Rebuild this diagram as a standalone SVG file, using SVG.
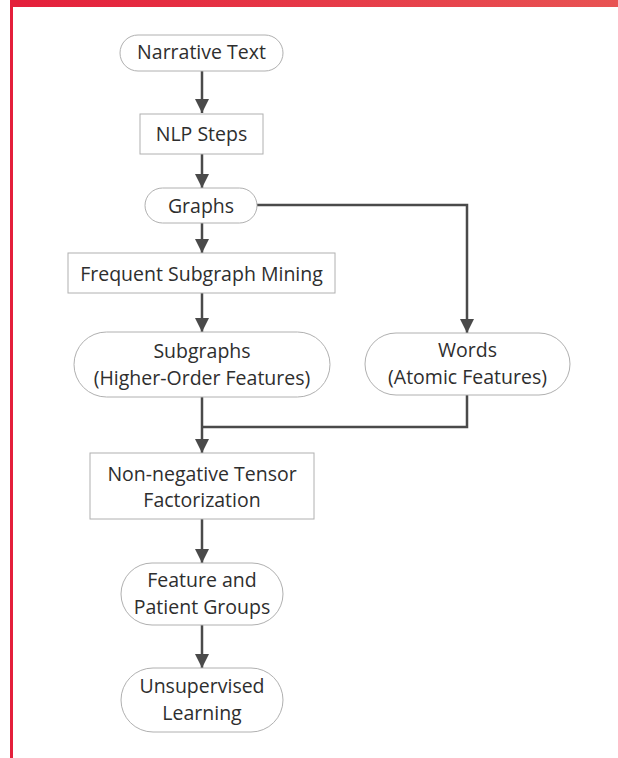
<svg xmlns="http://www.w3.org/2000/svg" width="618" height="758" viewBox="0 0 618 758">
<defs>
<linearGradient id="redbar" x1="0" y1="0" x2="1" y2="0">
<stop offset="0" stop-color="#e41f3b"/>
<stop offset="1" stop-color="#e85353"/>
</linearGradient>
<marker id="arr" markerUnits="userSpaceOnUse" markerWidth="14" markerHeight="14" viewBox="0 0 14 14" refX="14" refY="7" orient="auto">
<path d="M0,0 L14,7 L0,14 Z" fill="#4a4a4a"/>
</marker>
</defs>
<style>
.node rect{fill:#ffffff;stroke:#b0b0b0;stroke-width:1}
.node text{font-family:"Open Sans","Liberation Sans",sans-serif;font-size:19.5px;fill:#2e2e2e;text-anchor:middle}
#connectors path{fill:none;stroke:#4a4a4a;stroke-width:2.5}
</style>
<rect x="0" y="0" width="618" height="758" fill="#ffffff"/>
<rect x="10" y="0" width="608" height="7" fill="url(#redbar)"/>
<rect x="10" y="0" width="3" height="758" fill="#e41f3b"/>
<g id="connectors">
<path d="M202,71 V113" marker-end="url(#arr)"/>
<path d="M202,154 V188" marker-end="url(#arr)"/>
<path d="M202,223 V253" marker-end="url(#arr)"/>
<path d="M202,293 V332" marker-end="url(#arr)"/>
<path d="M257,205 H467 V333" marker-end="url(#arr)"/>
<path d="M202,397 V453" marker-end="url(#arr)"/>
<path d="M467,395 V427 H202"/>
<path d="M202,519 V563" marker-end="url(#arr)"/>
<path d="M202,625 V668" marker-end="url(#arr)"/>
</g>
<g id="narrative" class="node">
<rect x="120" y="35" width="163" height="36" rx="18"/>
<text x="201.5" y="59">Narrative Text</text>
</g>
<g id="nlp" class="node">
<rect x="140" y="114" width="123" height="40"/>
<text x="201.5" y="141">NLP Steps</text>
</g>
<g id="graphs" class="node">
<rect x="145" y="188" width="112" height="35" rx="17.5"/>
<text x="201" y="212.5">Graphs</text>
</g>
<g id="fsm" class="node">
<rect x="68" y="253" width="267" height="40"/>
<text x="201.5" y="280.5">Frequent Subgraph Mining</text>
</g>
<g id="subgraphs" class="node">
<rect x="74" y="332" width="256" height="65" rx="32.5"/>
<text x="202" y="357.5">Subgraphs</text>
<text x="202" y="385">(Higher-Order Features)</text>
</g>
<g id="words" class="node">
<rect x="365" y="333" width="205" height="62" rx="31"/>
<text x="467.5" y="356.5">Words</text>
<text x="467.5" y="384">(Atomic Features)</text>
</g>
<g id="ntf" class="node">
<rect x="90" y="453" width="224" height="66"/>
<text x="202" y="481">Non-negative Tensor</text>
<text x="202" y="507">Factorization</text>
</g>
<g id="groups" class="node">
<rect x="121" y="563" width="162" height="62" rx="31"/>
<text x="202" y="586.5">Feature and</text>
<text x="202" y="614">Patient Groups</text>
</g>
<g id="unsup" class="node">
<rect x="121" y="668" width="162" height="64" rx="32"/>
<text x="202" y="693">Unsupervised</text>
<text x="202" y="720">Learning</text>
</g>
</svg>
